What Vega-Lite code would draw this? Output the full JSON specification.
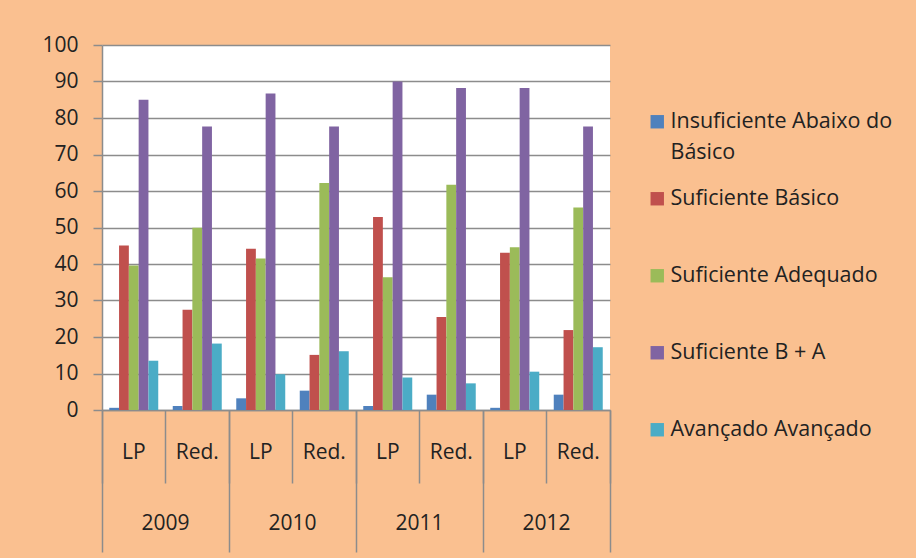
{
  "$schema": "https://vega.github.io/schema/vega-lite/v6.json",
  "width": 508,
  "height": 365,
  "autosize": "none",
  "padding": {"left": 102, "top": 45, "right": 306, "bottom": 148},
  "background": "#FAC090",
  "config": {
    "font": "Open Sans",
    "view": {"fill": "white", "stroke": null},
    "style": {"guide-label": {"lineHeight": 31}}
  },
  "data": {
    "values": [
      {"year": "2009", "type": "LP", "key": "2009 LP", "series": "Insuficiente Abaixo do Básico", "value": 0.6},
      {"year": "2009", "type": "LP", "key": "2009 LP", "series": "Suficiente Básico", "value": 45.1},
      {"year": "2009", "type": "LP", "key": "2009 LP", "series": "Suficiente Adequado", "value": 39.6},
      {"year": "2009", "type": "LP", "key": "2009 LP", "series": "Suficiente B + A", "value": 85.0},
      {"year": "2009", "type": "LP", "key": "2009 LP", "series": "Avançado Avançado", "value": 13.5},
      {"year": "2009", "type": "Red.", "key": "2009 Red.", "series": "Insuficiente Abaixo do Básico", "value": 1.1},
      {"year": "2009", "type": "Red.", "key": "2009 Red.", "series": "Suficiente Básico", "value": 27.5},
      {"year": "2009", "type": "Red.", "key": "2009 Red.", "series": "Suficiente Adequado", "value": 49.9},
      {"year": "2009", "type": "Red.", "key": "2009 Red.", "series": "Suficiente B + A", "value": 77.7},
      {"year": "2009", "type": "Red.", "key": "2009 Red.", "series": "Avançado Avançado", "value": 18.2},
      {"year": "2010", "type": "LP", "key": "2010 LP", "series": "Insuficiente Abaixo do Básico", "value": 3.2},
      {"year": "2010", "type": "LP", "key": "2010 LP", "series": "Suficiente Básico", "value": 44.2},
      {"year": "2010", "type": "LP", "key": "2010 LP", "series": "Suficiente Adequado", "value": 41.5},
      {"year": "2010", "type": "LP", "key": "2010 LP", "series": "Suficiente B + A", "value": 86.7},
      {"year": "2010", "type": "LP", "key": "2010 LP", "series": "Avançado Avançado", "value": 9.8},
      {"year": "2010", "type": "Red.", "key": "2010 Red.", "series": "Insuficiente Abaixo do Básico", "value": 5.3},
      {"year": "2010", "type": "Red.", "key": "2010 Red.", "series": "Suficiente Básico", "value": 15.1},
      {"year": "2010", "type": "Red.", "key": "2010 Red.", "series": "Suficiente Adequado", "value": 62.2},
      {"year": "2010", "type": "Red.", "key": "2010 Red.", "series": "Suficiente B + A", "value": 77.7},
      {"year": "2010", "type": "Red.", "key": "2010 Red.", "series": "Avançado Avançado", "value": 16.1},
      {"year": "2011", "type": "LP", "key": "2011 LP", "series": "Insuficiente Abaixo do Básico", "value": 1.1},
      {"year": "2011", "type": "LP", "key": "2011 LP", "series": "Suficiente Básico", "value": 52.9},
      {"year": "2011", "type": "LP", "key": "2011 LP", "series": "Suficiente Adequado", "value": 36.4},
      {"year": "2011", "type": "LP", "key": "2011 LP", "series": "Suficiente B + A", "value": 90.0},
      {"year": "2011", "type": "LP", "key": "2011 LP", "series": "Avançado Avançado", "value": 8.9},
      {"year": "2011", "type": "Red.", "key": "2011 Red.", "series": "Insuficiente Abaixo do Básico", "value": 4.2},
      {"year": "2011", "type": "Red.", "key": "2011 Red.", "series": "Suficiente Básico", "value": 25.5},
      {"year": "2011", "type": "Red.", "key": "2011 Red.", "series": "Suficiente Adequado", "value": 61.7},
      {"year": "2011", "type": "Red.", "key": "2011 Red.", "series": "Suficiente B + A", "value": 88.2},
      {"year": "2011", "type": "Red.", "key": "2011 Red.", "series": "Avançado Avançado", "value": 7.3},
      {"year": "2012", "type": "LP", "key": "2012 LP", "series": "Insuficiente Abaixo do Básico", "value": 0.6},
      {"year": "2012", "type": "LP", "key": "2012 LP", "series": "Suficiente Básico", "value": 43.1},
      {"year": "2012", "type": "LP", "key": "2012 LP", "series": "Suficiente Adequado", "value": 44.6},
      {"year": "2012", "type": "LP", "key": "2012 LP", "series": "Suficiente B + A", "value": 88.2},
      {"year": "2012", "type": "LP", "key": "2012 LP", "series": "Avançado Avançado", "value": 10.5},
      {"year": "2012", "type": "Red.", "key": "2012 Red.", "series": "Insuficiente Abaixo do Básico", "value": 4.2},
      {"year": "2012", "type": "Red.", "key": "2012 Red.", "series": "Suficiente Básico", "value": 21.9},
      {"year": "2012", "type": "Red.", "key": "2012 Red.", "series": "Suficiente Adequado", "value": 55.5},
      {"year": "2012", "type": "Red.", "key": "2012 Red.", "series": "Suficiente B + A", "value": 77.7},
      {"year": "2012", "type": "Red.", "key": "2012 Red.", "series": "Avançado Avançado", "value": 17.2}
    ]
  },
  "layer": [
    {
      "mark": {"type": "bar"},
      "encoding": {
        "x": {
          "field": "key",
          "type": "nominal",
          "sort": null,
          "scale": {"paddingInner": 0, "paddingOuter": 0},
          "axis": {
            "title": null,
            "labelExpr": "split(datum.label, ' ')[1]",
            "bandPosition": 1,
            "tickExtra": true,
            "tickSize": 73,
            "tickColor": "#8c8c8c",
            "tickWidth": 1.5,
            "labelPadding": -31,
            "labelBaseline": "middle",
            "labelAngle": 0,
            "labelFont": "Open Sans",
            "labelFontSize": 21,
            "labelColor": "#222222",
            "domainColor": "#8c8c8c",
            "domainWidth": 1.5,
            "grid": false
          }
        },
        "xOffset": {
          "field": "series",
          "type": "nominal",
          "sort": ["Insuficiente Abaixo do Básico", "Suficiente Básico", "Suficiente Adequado", "Suficiente B + A", "Avançado Avançado"],
          "scale": {"paddingInner": 0, "paddingOuter": 0.74}
        },
        "y": {
          "field": "value",
          "type": "quantitative",
          "scale": {"domain": [0, 100], "nice": false},
          "axis": {
            "title": null,
            "values": [0, 10, 20, 30, 40, 50, 60, 70, 80, 90, 100],
            "tickSize": 9,
            "tickColor": "#8c8c8c",
            "tickWidth": 1.5,
            "labelPadding": 15,
            "labelFont": "Open Sans",
            "labelFontSize": 21,
            "labelColor": "#222222",
            "domainColor": "#8c8c8c",
            "domainWidth": 1.5,
            "gridColor": "#8c8c8c",
            "gridWidth": 1.5
          }
        },
        "color": {
          "field": "series",
          "type": "nominal",
          "sort": ["Insuficiente Abaixo do Básico", "Suficiente Básico", "Suficiente Adequado", "Suficiente B + A", "Avançado Avançado"],
          "scale": {
            "domain": ["Insuficiente Abaixo do Básico", "Suficiente Básico", "Suficiente Adequado", "Suficiente B + A", "Avançado Avançado"],
            "range": ["#4F81BD", "#C0504D", "#9BBB59", "#8064A2", "#4BACC6"]
          },
          "legend": {
            "title": null,
            "orient": "none",
            "legendX": 544.5,
            "legendY": 66,
            "padding": 0,
            "symbolType": "square",
            "symbolSize": 180,
            "symbolStrokeWidth": 0,
            "labelOffset": 2.5,
            "labelFont": "Open Sans",
            "labelFontSize": 21.5,
            "labelColor": "#222222",
            "labelLimit": 400,
            "labelBaseline": "middle",
            "rowPadding": 23,
            "labelExpr": "datum.label == 'Insuficiente Abaixo do Básico' ? ['Insuficiente Abaixo do', 'Básico'] : [datum.label, '']"
          }
        }
      }
    },
    {
      "mark": {"type": "bar", "opacity": 0},
      "encoding": {
        "x": {
          "field": "year",
          "type": "nominal",
          "sort": null,
          "scale": {"paddingInner": 0, "paddingOuter": 0},
          "axis": {
            "orient": "bottom",
            "title": null,
            "bandPosition": 1,
            "tickExtra": true,
            "tickSize": 142,
            "tickColor": "#8c8c8c",
            "tickWidth": 1.5,
            "labelPadding": -29,
            "labelBaseline": "middle",
            "labelAngle": 0,
            "labelFont": "Open Sans",
            "labelFontSize": 21,
            "labelColor": "#222222",
            "domain": false,
            "grid": false
          }
        }
      }
    }
  ],
  "resolve": {"scale": {"x": "independent"}, "axis": {"x": "independent"}}
}
